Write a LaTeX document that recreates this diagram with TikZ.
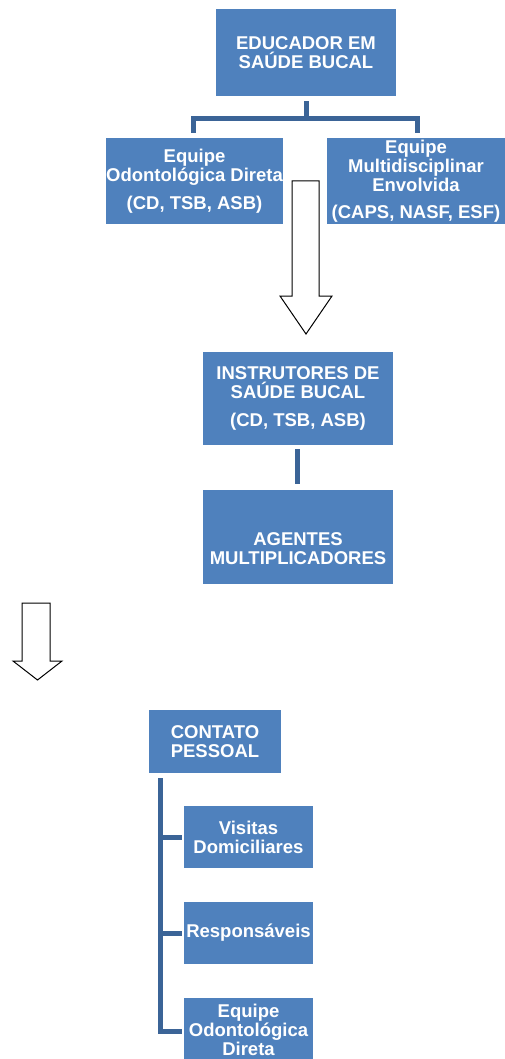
\documentclass[tikz,border=0pt]{standalone}
\usepackage{fontspec}
\setmainfont{Liberation Sans}
\definecolor{boxblue}{HTML}{4F81BD}
\definecolor{linkblue}{HTML}{3B6497}
\begin{document}
\begin{tikzpicture}[x=1pt,y=1pt,
  box/.style={fill=boxblue,draw=none,inner sep=0pt,align=center,text=white,
    font=\bfseries\fontsize{18.5}{19}\selectfont},
  lbl/.style={inner sep=0pt,align=center,text=white,
    font=\bfseries\fontsize{18.5}{19}\selectfont},
  conn/.style={draw=linkblue,line width=5pt,line join=miter},
  blockarrow/.style={draw=black,fill=white,line width=1pt,line join=miter}]
\path[use as bounding box] (0,0) rectangle (505,-1059);

% top level
\node[box,minimum width=180pt,minimum height=87pt] (edu) at (306,-52.5) {EDUCADOR EM\\SAÚDE BUCAL};
\node[box,minimum width=177pt,minimum height=86pt] (odo) at (194.5,-181) {Equipe\\Odontológica Direta\\[9pt](CD, TSB, ASB)};
\node[box,minimum width=178pt,minimum height=86pt] (mul) at (416,-181) {Equipe\\Multidisciplinar\\Envolvida\\[8pt](CAPS, NASF, ESF)};

\coordinate (split) at ([yshift=-22pt]edu.south);
\draw[conn] ([yshift=-5pt]edu.south) -- (split);
\draw[conn] (split) -| ([xshift=-1.5pt,yshift=5pt]odo.north);
\draw[conn] (split) -| ([xshift=1pt,yshift=5pt]mul.north);

% big arrow
\draw[blockarrow] (292,-181) -- (319,-181) -- (319,-296) -- (332,-296) -- (306,-334)
  -- (280,-296) -- (292,-296) -- cycle;

% middle
\node[box,minimum width=190pt,minimum height=93pt] (ins) at (298,-398.5) {INSTRUTORES DE\\SAÚDE BUCAL\\[9pt](CD, TSB, ASB)};
\node[box,minimum width=190pt,minimum height=94pt] (ag) at (298,-537) {};
\node[lbl] (agt) at (298,-548.5) {AGENTES\\MULTIPLICADORES};
\draw[conn] ([xshift=-1pt,yshift=-4pt]ins.south) -- ([xshift=-1pt,yshift=6pt]ag.north);

% small arrow
\draw[blockarrow] (22,-603) -- (50,-603) -- (50,-661) -- (62,-661) -- (37.5,-680)
  -- (13,-661) -- (22,-661) -- cycle;

% bottom
\node[box,minimum width=132pt,minimum height=63pt] (con) at (215,-741.5) {CONTATO\\PESSOAL};
\node[box,minimum width=129pt,minimum height=62pt] (vis) at (248.5,-837) {Visitas\\Domiciliares};
\node[box,minimum width=129pt,minimum height=62pt] (res) at (248.5,-933) {Responsáveis};
\node[box,minimum width=129pt,minimum height=64pt] (eqd) at (248.5,-1030) {Equipe\\Odontológica\\Direta};

\coordinate (trunk) at ([xshift=12pt,yshift=-5pt]con.south west);
\draw[conn] (trunk) |- ([xshift=-2pt,yshift=-1pt]eqd.west);
\draw[conn] (trunk |- vis.west) -- ([xshift=-2pt]vis.west);
\draw[conn] (trunk |- res.west) -- ([xshift=-2pt]res.west);
\end{tikzpicture}
\end{document}
